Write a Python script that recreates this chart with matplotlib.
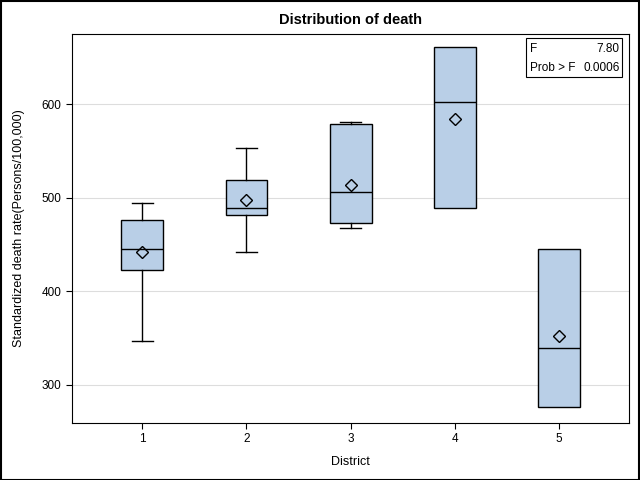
import matplotlib
matplotlib.use('Agg')
from matplotlib import pyplot as plt
from matplotlib.patches import Rectangle

plt.rcParams['font.family'] = ['Liberation Sans', 'DejaVu Sans']

districts = ['1', '2', '3', '4', '5']
whislo = [347, 442, 468, 489, 276]
q1 = [423, 481, 473, 489, 276]
med = [445, 489, 506, 602, 339]
q3 = [476, 519, 579, 661, 445]
whishi = [494, 553, 581, 661, 445]
means = [441.6, 497.2, 513.3, 583.8, 352.4]
f_value = '7.80'
p_value = '0.0006'

stats = []
for i in range(len(districts)):
    stats.append({'label': districts[i], 'whislo': whislo[i], 'q1': q1[i], 'med': med[i],
                  'q3': q3[i], 'whishi': whishi[i], 'mean': means[i], 'fliers': []})

# no visible cap when the whisker has zero length
caps = [0.2 if (whishi[i] > q3[i] or whislo[i] < q1[i]) else 0.0 for i in range(len(districts))]

fig = plt.figure(figsize=(6.4, 4.8), dpi=100)
ax = fig.add_axes([0.1125, 0.119, 0.871, 0.81])

ax.bxp(stats, positions=range(1, 6), widths=0.4, patch_artist=True, showmeans=True,
       boxprops=dict(facecolor='#B9CFE7', edgecolor='black', linewidth=1),
       medianprops=dict(color='black', linewidth=1),
       whiskerprops=dict(color='black', linewidth=1),
       capprops=dict(color='black', linewidth=1),
       capwidths=caps,
       meanprops=dict(marker='D', markerfacecolor='none', markeredgecolor='black',
                      markersize=6, markeredgewidth=1))

ax.set_xlim(0.327, 5.673)
ax.set_ylim(259, 675)
ax.set_yticks([300, 400, 500, 600])
ax.yaxis.grid(True, color='#DDDDDD', linewidth=0.8)
ax.set_axisbelow(True)
ax.tick_params(labelsize=8.5, length=4, direction='out')
ax.set_xlabel('District', fontsize=9, labelpad=8)
ax.set_ylabel('Standardized death rate(Persons/100,000)', fontsize=9, labelpad=12)
ax.set_title('Distribution of death', fontsize=10.5, fontweight='bold', pad=7)

# F statistic inset box
ax.text(0.822, 0.962, 'F', transform=ax.transAxes, fontsize=8.5, va='center', ha='left')
ax.text(0.982, 0.962, f_value, transform=ax.transAxes, fontsize=8.5, va='center', ha='right')
ax.text(0.822, 0.912, 'Prob > F', transform=ax.transAxes, fontsize=8.5, va='center', ha='left')
ax.text(0.982, 0.912, p_value, transform=ax.transAxes, fontsize=8.5, va='center', ha='right')
ax.add_patch(Rectangle((0.815, 0.889), 0.172, 0.101, transform=ax.transAxes,
                       fill=False, edgecolor='black', linewidth=0.8))

fig.patches.append(Rectangle((0.001, 0.001), 0.997, 0.997, transform=fig.transFigure,
                             fill=False, edgecolor='black', linewidth=1.5))

fig.savefig('out.png', dpi=100)
